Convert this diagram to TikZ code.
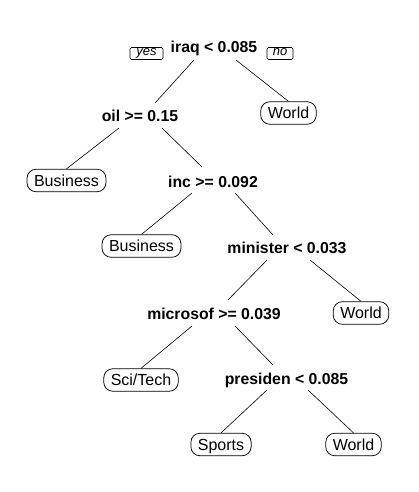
\documentclass[tikz,border=0pt]{standalone}
\usepackage{fontspec}
\setmainfont{Liberation Sans}
\usetikzlibrary{calc}
\begin{document}
\begin{tikzpicture}[x=1pt,y=-1pt,
  split/.style={font=\fontsize{15.8}{16}\selectfont\bfseries, inner sep=0pt, anchor=base},
  leaf/.style={draw, line width=0.75pt, rounded corners=9pt, font=\fontsize{16}{16}\selectfont,
    inner xsep=7pt, inner ysep=0pt, text height=11.5pt, text depth=0pt, minimum height=22.5pt},
  yn/.style={draw, line width=0.6pt, rounded corners=1.5pt, font=\fontsize{13}{13}\selectfont\itshape,
    inner sep=0pt, text height=7.5pt, text depth=3pt, minimum height=12pt},
  edge/.style={line width=0.6pt}]
\useasboundingbox (0,0) rectangle (419,492);
% split nodes
\node[split] (iraq) at (214,53) {iraq < 0.085};
\node[split] (oil) at (140,121.5) {oil >= 0.15};
\node[split] (inc) at (213,187) {inc >= 0.092};
\node[split] (minister) at (287,253) {minister < 0.033};
\node[split] (microsof) at (214,319) {microsof >= 0.039};
\node[split] (presiden) at (286.5,384.5) {presiden < 0.085};
% yes / no
\node[yn, minimum width=33pt] (yes) at (146.5,53.5) {yes};
\node[yn, minimum width=26pt] (no) at (280,53.5) {no};
% leaves
\node[leaf] (w1) at (288.5,113) {World};
\node[leaf] (b1) at (66.5,180.5) {Business};
\node[leaf] (b2) at (141.5,246) {Business};
\node[leaf] (w2) at (361,313) {World};
\node[leaf] (st) at (141,380) {Sci/Tech};
\node[leaf] (sp) at (221,444.5) {Sports};
\node[leaf] (w3) at (353.5,444.5) {World};
% edges
\draw[edge] ($(iraq.base)+(-20,7)$) -- ($(oil.base)+(15,-18.5)$);
\draw[edge] ($(iraq.base)+(22,7)$) -- (w1.north);
\draw[edge] ($(oil.base)+(-21,6.5)$) -- (b1.north);
\draw[edge] ($(oil.base)+(22,6.5)$) -- ($(inc.base)+(-11,-20)$);
\draw[edge] ($(inc.base)+(-21,6)$) -- (b2.north);
\draw[edge] ($(inc.base)+(22,6)$) -- ($(minister.base)+(-14,-18)$);
\draw[edge] ($(minister.base)+(-20,7)$) -- ($(microsof.base)+(14,-19)$);
\draw[edge] ($(minister.base)+(23,7)$) -- (w2.north);
\draw[edge] ($(microsof.base)+(-22,7)$) -- (st.north);
\draw[edge] ($(microsof.base)+(21,7)$) -- ($(presiden.base)+(-13.5,-19.5)$);
\draw[edge] ($(presiden.base)+(-19.5,5.5)$) -- (sp.north);
\draw[edge] ($(presiden.base)+(21.5,5.5)$) -- (w3.north);
\end{tikzpicture}
\end{document}
